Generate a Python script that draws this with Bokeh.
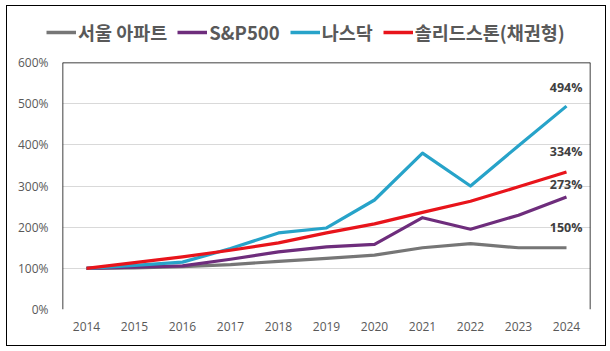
from bokeh.plotting import figure
from bokeh.layouts import column
from bokeh.models import Legend, LegendItem, Span, FixedTicker, ColumnDataSource
from bokeh.embed import file_html
from bokeh.resources import INLINE
from bokeh.core.properties import value

years = ["2014", "2015", "2016", "2017", "2018", "2019", "2020", "2021", "2022", "2023", "2024"]
seoul_apt = [100, 101, 104, 109, 117, 124, 132, 150, 160, 150, 150]
sp500 = [100, 103, 106, 122, 140, 152, 158, 223, 195, 229, 273]
nasdaq = [100, 107, 115, 148, 186, 198, 266, 380, 300, 398, 494]
solid = [100, 114, 128, 144, 162, 186, 208, 236, 263, 298, 334]

series_names = ["서울 아파트", "S&P500", "나스닥", "솔리드스톤(채권형)"]
series_vals = [seoul_apt, sp500, nasdaq, solid]
colors = ["#767676", "#6e2d7c", "#27a3c9", "#e8141b"]

end_labels = ["494%", "334%", "273%", "150%"]
end_values = [nasdaq[-1], solid[-1], sp500[-1], seoul_apt[-1]]
end_offsets = [-19, -21, -13, -20]

y_ticks = [0, 100, 200, 300, 400, 500, 600]

FONT = "Open Sans"
KFONT = "Noto Sans CJK KR"

# legend strip
lg = figure(width=598, height=46, x_range=(0, 1), y_range=(0, 1),
            output_backend="svg", toolbar_location=None,
            min_border=0, min_border_left=0, min_border_right=0, min_border_top=0, min_border_bottom=0)
lg.axis.visible = False
lg.grid.visible = False
lg.outline_line_color = None

p = figure(x_range=years, y_range=(0, 600), width=598, height=293,
           output_backend="svg", toolbar_location=None,
           min_border_left=55, min_border_right=15, min_border_top=10, min_border_bottom=36)
p.outline_line_color = None
p.background_fill_color = "white"
p.border_fill_color = "white"

items = []
for name, vals, c in zip(series_names, series_vals, colors):
    p.line(years, vals, line_color=c, line_width=3.2, line_join="round")
    dummy = lg.line([5, 6], [5, 6], line_color=c, line_width=3.5)
    items.append(LegendItem(label=name, renderers=[dummy]))

src = ColumnDataSource(dict(x=[years[-1]] * 4, y=end_values, t=end_labels, yo=end_offsets))
p.text(x="x", y="y", text="t", source=src, x_offset=16, y_offset="yo",
       text_align="right", text_baseline="middle", text_font=value(FONT),
       text_font_size="12.5px", text_font_style="bold", text_color="#404040")

# frame lines (left, top, right)
for loc, dim in [(0, "height"), (len(years), "height"), (600, "width")]:
    p.add_layout(Span(location=loc, dimension=dim, line_color="black", line_width=1.5))

p.xgrid.grid_line_color = None
p.ygrid.grid_line_color = "#d9d9d9"
p.ygrid.grid_line_width = 1
p.yaxis.ticker = FixedTicker(ticks=y_ticks)
p.yaxis.major_label_overrides = {v: f"{v}%" for v in y_ticks}
for ax in (p.xaxis, p.yaxis):
    ax.axis_line_color = None
    ax.major_tick_line_color = None
    ax.minor_tick_line_color = None
    ax.major_label_text_font = FONT
    ax.major_label_text_font_size = "12px"
    ax.major_label_text_color = "#595959"
p.yaxis.major_label_standoff = 8
p.xaxis.major_label_standoff = 6

legend = Legend(items=items, orientation="horizontal", location=(39, 7),
                label_text_font=KFONT, label_text_font_size="18.5px", label_text_font_style="bold",
                label_text_color="#595959", glyph_width=30, glyph_height=20, label_standoff=2,
                spacing=10, padding=0, margin=0, border_line_color=None,
                background_fill_alpha=0)
lg.add_layout(legend)

layout = column(column(lg), p, spacing=0)
layout.styles = {"margin-left": "6px", "margin-top": "5px", "border": "1.5px solid black"}

open("out.html", "w").write(file_html(layout, INLINE))
